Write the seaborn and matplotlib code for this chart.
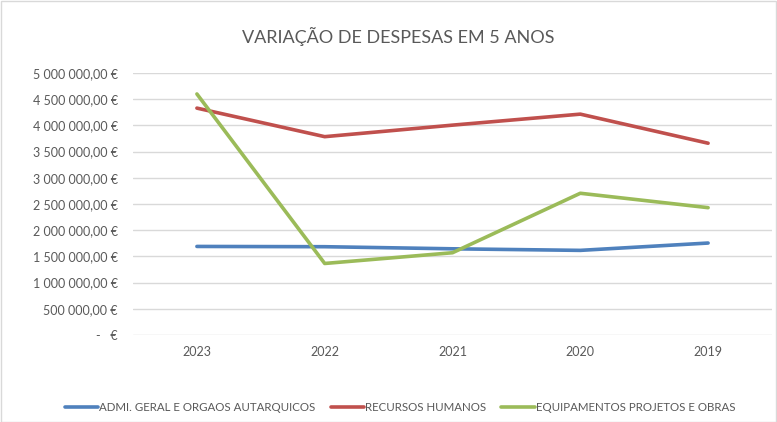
import pandas as pd
import numpy as np
import matplotlib.pyplot as plt
import seaborn as sns
from matplotlib.ticker import FuncFormatter, MultipleLocator

years = ['2023', '2022', '2021', '2020', '2019']
admin_geral = [1690000, 1685000, 1645000, 1615000, 1755000]
recursos_humanos = [4330000, 3785000, 4005000, 4215000, 3660000]
equipamentos = [4600000, 1365000, 1570000, 2705000, 2430000]

series_names = ['ADMI. GERAL E ORGAOS AUTARQUICOS', 'RECURSOS HUMANOS',
                'EQUIPAMENTOS PROJETOS E OBRAS']
colors = ['#4F81BD', '#C0504D', '#9BBB59']

df = pd.DataFrame({'Ano': years,
                   series_names[0]: admin_geral,
                   series_names[1]: recursos_humanos,
                   series_names[2]: equipamentos})
long_df = df.melt(id_vars='Ano', var_name='Serie', value_name='Valor')

sns.set_style('white')
plt.rcParams['font.family'] = ['Lato', 'DejaVu Sans']

fig = plt.figure(figsize=(7.77, 4.22), dpi=100)
ax = fig.add_axes([133 / 777, 87 / 422, 639 / 777, 262 / 422])

sns.lineplot(data=long_df, x='Ano', y='Valor', hue='Serie', hue_order=series_names,
             palette=colors, linewidth=2.6, sort=False, ax=ax, legend=True)

ax.set_xlim(-0.5, 4.5)
ax.set_ylim(0, 5000000)
ax.yaxis.set_major_locator(MultipleLocator(500000))


def euro_fmt(v, pos):
    if abs(v) < 1:
        return '-   €'
    s = f'{v:,.2f}'.replace(',', ' ').replace('.', ',')
    return s + ' €'


ax.yaxis.set_major_formatter(FuncFormatter(euro_fmt))
ax.grid(axis='y', color='#d9d9d9', linewidth=1)
ax.set_axisbelow(True)
for sp in ax.spines.values():
    sp.set_visible(False)
ax.tick_params(axis='both', length=0, labelsize=9, labelcolor='#595959')
ax.tick_params(axis='y', pad=11)
ax.tick_params(axis='x', pad=8)
ax.set_xlabel('')
ax.set_ylabel('')

fig.text(398 / 777, 0.913, 'VARIAÇÃO DE DESPESAS EM 5 ANOS', ha='center', va='center',
         fontsize=13, color='#595959')

handles, labels = ax.get_legend_handles_labels()
ax.legend(handles, labels, loc='center', bbox_to_anchor=(400 / 777, 14.5 / 422),
          bbox_transform=fig.transFigure, ncol=3, frameon=False, fontsize=8.3,
          handlelength=2.9, handletextpad=0.1, columnspacing=1.3,
          labelcolor='#595959')

fig.patches.append(plt.Rectangle((0.001, 0.001), 0.998, 0.997, transform=fig.transFigure,
                                 fill=False, edgecolor='#d9d9d9', linewidth=1))

fig.savefig('out.png', dpi=100)
